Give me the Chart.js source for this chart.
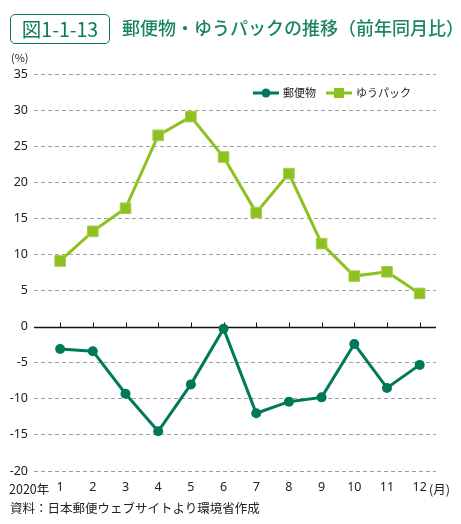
<!DOCTYPE html>
<html><head><meta charset="utf-8">
<script src="https://cdn.jsdelivr.net/npm/chart.js@4/dist/chart.umd.min.js"></script>
<style>
html,body{margin:0;padding:0;background:#fff;}
#wrap{position:relative;width:461px;height:524px;font-family:"Noto Sans CJK JP","Noto Sans",sans-serif;}
#c{position:absolute;left:0;top:0;}
.t{position:absolute;white-space:nowrap;}
#box{left:10px;top:14px;width:98px;height:28px;border:1.5px solid #0b7a5c;border-radius:5px;color:#0b7a5c;font-size:19.5px;line-height:28px;text-align:center;box-sizing:content-box;}
#title{left:122px;top:13px;font-size:18px;line-height:28px;color:#1a8560;font-weight:500;letter-spacing:0px;}
#unit{left:11px;top:49px;font-size:11px;color:#222;}
#src{left:10px;top:498px;font-size:12.5px;color:#222;}
#yr{left:9px;top:479px;font-size:12.5px;color:#222;}
#mo{left:429px;top:479px;font-size:12.5px;color:#222;}
</style></head>
<body><div id="wrap">
<canvas id="c" width="461" height="524"></canvas>
<div class="t" id="box">図1-1-13</div>
<div class="t" id="title">郵便物・ゆうパックの推移（前年同月比）</div>
<div class="t" id="unit">(%)</div>
<div class="t" id="yr">2020年</div>
<div class="t" id="mo">(月)</div>
<div class="t" id="src">資料：日本郵便ウェブサイトより環境省作成</div>
</div>
<script>
const months = [1,2,3,4,5,6,7,8,9,10,11,12];
const mailValues = [-3.1,-3.4,-9.3,-14.5,-8.0,-0.3,-12.0,-10.4,-9.8,-2.4,-8.5,-5.3];
const yuPackValues = [9.1,13.2,16.4,26.5,29.1,23.5,15.8,21.2,11.5,7.0,7.6,4.6];
const seriesNames = ["郵便物","ゆうパック"];
const yTicks = [-20,-15,-10,-5,0,5,10,15,20,25,30,35];

const DARK = "#00785a", LIGHT = "#8cc11f";
const FONT = '"Noto Sans","Noto Sans CJK JP",sans-serif';

const zeroLine = {
  id:'zeroLine',
  beforeDatasetsDraw(chart){
    const ctx=chart.ctx, y=chart.scales.y, x=chart.scales.x, a=chart.chartArea;
    const py=Math.round(y.getPixelForValue(0))+0.5;
    ctx.save();
    ctx.strokeStyle="#111"; ctx.lineWidth=1.5;
    ctx.beginPath(); ctx.moveTo(a.left,py); ctx.lineTo(a.right,py); ctx.stroke();
    ctx.lineWidth=1;
    months.forEach(m=>{const px=Math.round(x.getPixelForValue(m))+0.5;ctx.beginPath();ctx.moveTo(px,py);ctx.lineTo(px,py-5);ctx.stroke();});
    ctx.restore();
  }
};
const legendPlug = {
  id:'legendPlug',
  afterDraw(chart){
    const ctx=chart.ctx; ctx.save();
    const y=93;
    const items=[{x:253,c:DARK,s:'circle',t:seriesNames[0]},{x:326,c:LIGHT,s:'rect',t:seriesNames[1]}];
    items.forEach(it=>{
      ctx.strokeStyle=it.c; ctx.lineWidth=3;
      ctx.beginPath(); ctx.moveTo(it.x,y); ctx.lineTo(it.x+26,y); ctx.stroke();
      ctx.fillStyle=it.c;
      if(it.s==='circle'){ctx.beginPath();ctx.arc(it.x+13,y,4.5,0,Math.PI*2);ctx.fill();}
      else{ctx.fillRect(it.x+8,y-5,10,10);}
      ctx.fillStyle="#222"; ctx.font='11px "Noto Sans CJK JP",sans-serif'; ctx.textBaseline='middle';
      ctx.fillText(it.t,it.x+30,y);
    });
    ctx.restore();
  }
};

new Chart(document.getElementById('c'),{
  type:'line',
  data:{datasets:[
    {label:seriesNames[0],data:months.map((m,i)=>({x:m,y:mailValues[i]})),borderColor:DARK,backgroundColor:DARK,borderWidth:3,pointStyle:'circle',pointRadius:5,pointHoverRadius:5,pointBorderWidth:0,tension:0},
    {label:seriesNames[1],data:months.map((m,i)=>({x:m,y:yuPackValues[i]})),borderColor:LIGHT,backgroundColor:LIGHT,borderWidth:3,pointStyle:'rect',pointRadius:7.5,pointHoverRadius:7.5,pointBorderWidth:1,pointBorderColor:"#a3cf4a",tension:0}
  ]},
  options:{
    responsive:false,animation:false,
    layout:{padding:{top:74,bottom:31,left:0,right:25}},
    plugins:{legend:{display:false},tooltip:{enabled:false}},
    scales:{
      x:{type:'linear',min:0.2,max:12.5,
        afterBuildTicks(s){s.ticks=months.map(v=>({value:v}));},
        afterFit(s){s.height=22;},
        grid:{display:false,drawTicks:false},border:{display:false},
        ticks:{padding:9,color:"#222",font:{family:FONT,size:12.5},callback:v=>String(v),maxRotation:0,autoSkip:false}},
      y:{min:-20,max:35,
        afterBuildTicks(s){s.ticks=yTicks.map(v=>({value:v}));},
        afterFit(s){s.width=34;},
        border:{display:false,dash:[4,3]},
        grid:{drawTicks:false,lineWidth:1,color:c=>c.tick&&c.tick.value===0?'rgba(0,0,0,0)':'#a0a0a0'},
        ticks:{padding:6,color:"#222",font:{family:FONT,size:12.5}}}
    }
  },
  plugins:[zeroLine,legendPlug]
});
</script>
</body></html>
